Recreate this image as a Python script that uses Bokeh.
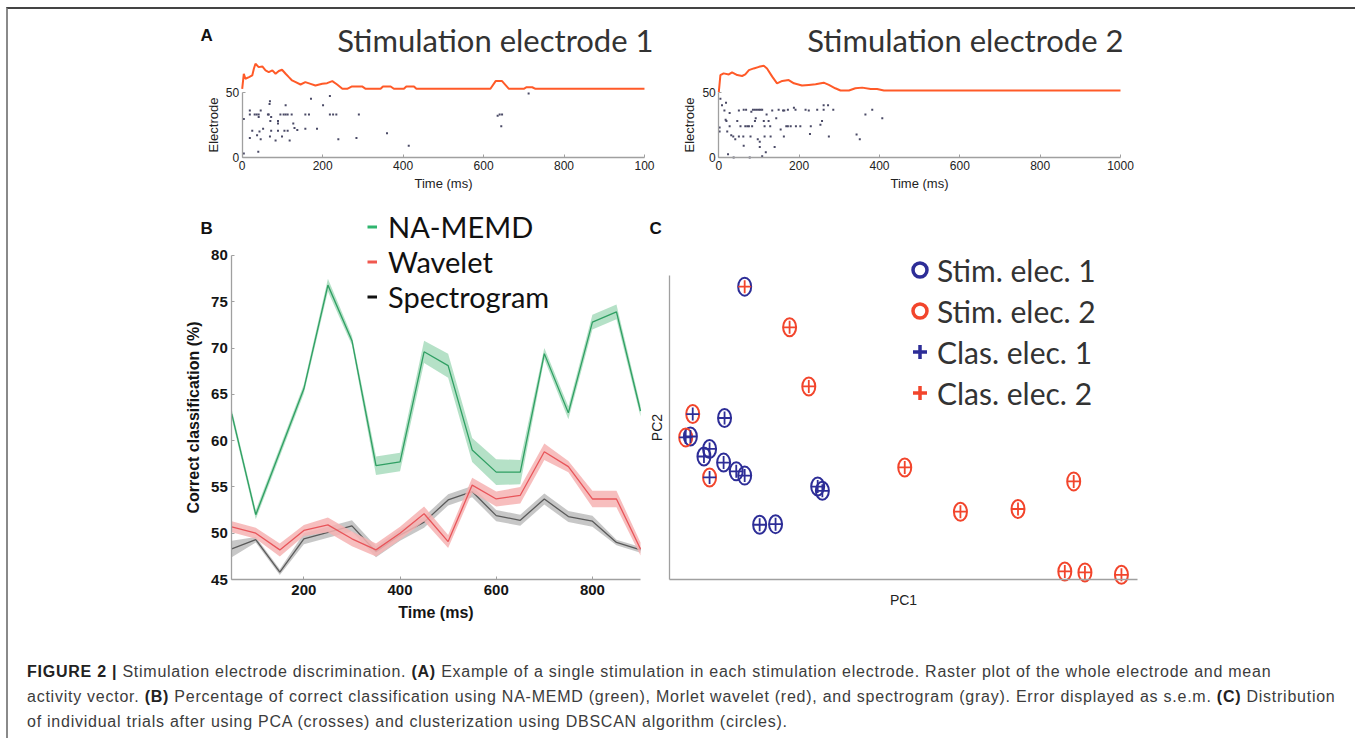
from bokeh.plotting import figure
from bokeh.models import (Range1d, Label, Legend, LegendItem, FixedTicker, Div,
                          ColumnDataSource)
from bokeh.layouts import column, row
from bokeh.embed import file_html
from bokeh.resources import INLINE

# ---------------- data ----------------
# Panel A: raster (time in ms, electrode index) and mean activity trace
a1_spike_ms = [4, 4, 19, 19, 19, 25, 31, 36, 37, 41, 41, 40, 43, 46, 46, 52, 64, 66, 68, 69,
               70, 69, 72, 72, 83, 89, 89, 89, 95, 99, 103, 105, 108, 108, 113, 113, 118, 123, 127, 130,
               137, 157, 157, 166, 171, 186, 201, 218, 218, 226, 234, 239, 284, 290, 360, 414, 635, 640, 646, 644,
               712]
a1_spike_el = [29.5, 3, 36, 33, 15, 20.5, 33, 33, 17, 33, 31, 4.4, 20, 36, 14, 22, 33, 33, 41, 16,
               28, 43, 20.5, 31, 13, 26, 20.5, 28, 33, 16, 33, 20.5, 33, 40, 33, 20.5, 13, 33, 26, 22.5,
               21, 22, 33, 33, 45, 22, 40, 47, 33, 33, 33, 14, 15, 33, 18.5, 9, 32, 33, 33, 24,
               49]
a1_trace_ms = [0, 4, 8, 17, 25, 29, 33, 41, 50, 58, 66, 75, 83, 91, 99, 108, 116, 124, 133, 145,
               157, 170, 182, 199, 211, 224, 236, 249, 261, 273, 298, 307, 344, 350, 369, 377, 402, 408,
               427, 433, 617, 630, 646, 663, 700, 707, 721, 729, 1000]
a1_trace_val = [52.6, 64.1, 60.3, 61.5, 62.8, 67.9, 71.8, 69.2, 69.7, 66.7, 65.4, 66.7, 64.1, 66.2,
                67.2, 64.1, 61.5, 59.0, 57.7, 55.9, 57.7, 56.4, 55.1, 56.4, 56.9, 58.5, 55.9, 52.6,
                52.6, 54.4, 54.4, 52.6, 52.6, 54.4, 54.4, 52.6, 52.6, 54.4, 54.4, 52.6, 52.6, 58.5,
                58.5, 52.6, 52.6, 53.8, 53.8, 52.6, 52.6]

a2_spike_ms = [4, 8, 2, 2, 18, 14, 17, 19, 21, 23, 27, 27, 31, 36, 37, 41, 46, 50, 50, 54,
               61, 62, 68, 62, 66, 71, 75, 77, 79, 81, 83, 85, 90, 95, 100, 104, 108, 90, 92, 97,
               102, 102, 108, 112, 114, 114, 117, 119, 124, 128, 129, 133, 139, 143, 149, 154, 160, 163, 162, 168,
               172, 172, 187, 191, 179, 192, 203, 216, 224, 227, 229, 245, 253, 257, 261, 261, 274, 272, 285, 343,
               351, 365, 382, 407]
a2_spike_el = [45, 40, 23, 20, 42, 36, 29, 28, 20, 2.5, 34, 24, 17, 16, 0, 14, 28, 36, 16, 24,
               16, 36.6, 36.6, 9, 24, 24, 24, 0, 16, 35, 24, 36.6, 36.6, 36.6, 36.6, 36.6, 36.6, 28, 30, 14,
               12, 8, 1, 28, 24, 16, 4, 33, 28, 24, 16, 36, 8, 30, 36.6, 21.5, 36, 36, 16, 24,
               24, 36.6, 38, 36.6, 24, 24, 24, 36.6, 36, 18, 24, 36.6, 25, 28, 40, 36.6, 16, 40, 36.6, 17.7,
               14, 33, 36.6, 30]
a2_trace_ms = [0, 4, 12, 25, 33, 46, 58, 66, 75, 87, 100, 112, 120, 133, 145, 158, 174, 187, 207,
               224, 241, 261, 274, 290, 303, 324, 340, 357, 378, 394, 411, 1000]
a2_trace_val = [50.0, 63.0, 64.4, 63.6, 65.2, 63.1, 62.4, 63.6, 66.9, 68.2, 69.4, 70.2, 68.2, 61.9,
                56.8, 58.6, 59.3, 56.8, 55.1, 55.6, 56.1, 57.3, 55.6, 53.0, 51.3, 51.3, 53.0, 53.5,
                52.5, 52.5, 51.3, 51.3]

a_xticks = [0, 200, 400, 600, 800, 1000]
a_yticks = [0, 50]

# Panel B: correct classification (%) vs time (ms), mean and s.e.m.
b_time = [50, 100, 150, 200, 250, 300, 350, 400, 450, 500, 550, 600, 650, 700, 750, 800, 850, 900]
b_memd = [62.9, 52.0, 58.8, 65.6, 76.8, 70.8, 57.3, 57.7, 69.6, 68.1, 59.0, 56.6, 56.6, 69.4, 63.0, 72.8, 73.9, 63.2]
b_memd_sem = [0.5, 0.5, 0.5, 0.5, 0.7, 0.5, 1.0, 1.0, 1.2, 1.3, 1.3, 1.4, 1.3, 0.6, 0.7, 0.8, 0.8, 0.6]
b_wavelet = [50.7, 50.0, 48.2, 50.3, 50.9, 49.4, 48.2, 50.0, 52.1, 49.1, 55.2, 53.7, 54.1, 58.8, 57.2, 53.7, 53.7, 48.3]
b_wavelet_sem = [0.6, 0.6, 0.7, 0.6, 0.8, 0.8, 0.7, 0.7, 0.8, 0.7, 0.8, 0.8, 0.9, 0.9, 0.6, 0.9, 0.9, 0.7]
b_spectro = [48.3, 49.3, 45.8, 49.4, 50.1, 50.8, 48.0, 49.8, 51.2, 53.6, 54.5, 51.9, 51.4, 53.7, 51.8, 51.3, 49.0, 48.2]
b_spectro_sem = [0.9, 0.3, 0.3, 0.6, 0.6, 0.6, 0.6, 0.6, 0.6, 0.6, 0.6, 0.6, 0.6, 0.6, 0.6, 0.6, 0.3, 0.3]
b_xticks = [200, 400, 600, 800]
b_yticks = [45, 50, 55, 60, 65, 70, 75, 80]
b_labels = ["NA-MEMD", "Wavelet", "Spectrogram"]

# Panel C: PCA scores of individual trials
c_pc1 = [16.0, 25.6, 29.7, 4.9, 11.7, 4.4, 3.4, 8.5, 7.3, 11.5, 14.2, 16.0, 8.5, 31.6, 32.6, 19.2,
         22.6, 50.2, 62.1, 74.4, 86.3, 84.4, 88.7, 96.5]
c_pc2 = [96.4, 83.0, 63.5, 54.4, 53.1, 47.0, 46.7, 42.9, 40.4, 38.4, 35.5, 34.1, 33.5, 30.5, 29.1,
         17.9, 18.1, 36.8, 22.2, 23.1, 32.2, 2.5, 2.2, 1.4]
c_stim = [1, 2, 2, 2, 1, 1, 2, 1, 1, 1, 1, 1, 2, 1, 1, 1, 1, 2, 2, 2, 2, 2, 2, 2]
c_clas = [2, 2, 2, 1, 1, 1, 1, 1, 1, 1, 1, 1, 1, 1, 1, 1, 1, 2, 2, 2, 2, 2, 2, 2]
c_labels = ["Stim. elec. 1", "Stim. elec. 2", "Clas. elec. 1", "Clas. elec. 2"]

# ---------------- styling ----------------
AX_FONT = "Liberation Sans"
TITLE_FONT = "Lato"
BLUE = "#2d2d97"
RED = "#f2452c"
TRACE = "#ff5a28"


def base_fig(width, height, xr, yr):
    p = figure(width=width, height=height, x_range=Range1d(*xr), y_range=Range1d(*yr),
               min_border=0, min_border_left=0, min_border_right=0, min_border_top=0,
               min_border_bottom=0, output_backend="svg", toolbar_location=None)
    p.outline_line_color = None
    p.grid.visible = False
    return p


def style_axes(p, tick_size, label_size, bold, color):
    for ax in p.axis:
        ax.axis_line_color = "#a0a0a0"
        ax.axis_line_width = 1.3
        ax.major_tick_line_color = "#a0a0a0"
        ax.minor_tick_line_color = None
        ax.major_tick_in = 3
        ax.major_tick_out = 0
        ax.major_label_text_font = AX_FONT
        ax.major_label_text_font_size = tick_size
        ax.major_label_text_font_style = "bold" if bold else "normal"
        ax.major_label_text_color = color
        ax.axis_label_text_font = AX_FONT
        ax.axis_label_text_font_size = label_size
        ax.axis_label_text_font_style = "bold" if bold else "normal"
        ax.axis_label_text_color = color


def panel_label(p, txt, x, y):
    p.add_layout(Label(x=x, y=y, x_units="screen", y_units="screen", text=txt,
                       text_font=AX_FONT, text_font_size="17px", text_font_style="bold",
                       text_color="#111111", text_align="left", text_baseline="middle"))


def make_a(width, xr, t, el, lt, lv, title, title_x, last_label):
    p = base_fig(width, 191, xr, (-32.9, 113.3))
    p.line(lt, lv, line_color=TRACE, line_width=2)
    p.scatter(t, el, marker="square", size=2.0, fill_color="#4a4a66", line_color=None)
    style_axes(p, "12px", "13px", False, "#222222")
    p.xaxis.ticker = FixedTicker(ticks=a_xticks)
    p.xaxis.major_label_overrides = {1000: last_label}
    p.xaxis.bounds = (0, 1000)
    p.xaxis.fixed_location = 0
    p.yaxis.ticker = FixedTicker(ticks=a_yticks)
    p.yaxis.bounds = (0, 50)
    p.yaxis.fixed_location = 0
    p.xaxis.axis_label = "Time (ms)"
    p.yaxis.axis_label = "Electrode"
    p.xaxis.major_label_standoff = 3
    p.xaxis.axis_label_standoff = 3
    p.yaxis.major_label_standoff = 3
    p.yaxis.axis_label_standoff = 2
    p.add_layout(Label(x=title_x, y=161, x_units="screen", y_units="screen", text=title,
                       text_font=TITLE_FONT, text_font_size="31px", text_color="#333333",
                       text_align="right", text_baseline="middle"))
    return p


pa1 = make_a(660, (-580.9, 1059.7), a1_spike_ms, a1_spike_el, a1_trace_ms, a1_trace_val,
             "Stimulation electrode 1", 645, "100")
panel_label(pa1, "A", 192, 165)
pa2 = make_a(679, (-125.2, 1565.1), a2_spike_ms, a2_spike_el, a2_trace_ms, a2_trace_val,
             "Stimulation electrode 2", 455, "1000")

# ---------------- panel B ----------------
pb = base_fig(637, 428, (-414.2, 910.4), (39.71, 85.94))

series = [
    (b_spectro, b_spectro_sem, "#bdbdbd", "#5a5a5a", "#111111"),
    (b_wavelet, b_wavelet_sem, "#f6b3b3", "#e8555a", "#f0584f"),
    (b_memd, b_memd_sem, "#a8dcbd", "#2f9f63", "#2fb56e"),
]
# hidden renderers that only supply the legend dashes
dash_renderers = []
for vals, sem, band, line, dash in series:
    dash_renderers.append(pb.line(b_time, vals, line_color=dash, line_width=3, visible=False))
for vals, sem, band, line, dash in series:
    lo = [v - s for v, s in zip(vals, sem)]
    hi = [v + s for v, s in zip(vals, sem)]
    pb.varea(x=b_time, y1=lo, y2=hi, fill_color=band, fill_alpha=0.85)
    pb.line(b_time, vals, line_color=line, line_width=1.3)

style_axes(pb, "15px", "16px", True, "#151515")
pb.xaxis.ticker = FixedTicker(ticks=b_xticks)
pb.yaxis.ticker = FixedTicker(ticks=b_yticks)
pb.xaxis.bounds = (50, 900)
pb.yaxis.bounds = (45, 80)
pb.xaxis.fixed_location = 45
pb.yaxis.fixed_location = 50
pb.xaxis.axis_label = "Time (ms)"
pb.yaxis.axis_label = "Correct classification (%)"
pb.xaxis.major_label_standoff = 5
pb.xaxis.axis_label_standoff = 6
pb.yaxis.major_label_standoff = 4
pb.yaxis.axis_label_standoff = 6

leg_b = Legend(items=[LegendItem(label=b_labels[2 - i], renderers=[dash_renderers[i]])
                      for i in (2, 1, 0)],
               location=(359, 314), glyph_width=10, glyph_height=35, label_height=35,
               label_standoff=11, spacing=0, padding=0, margin=0,
               background_fill_alpha=0, border_line_color=None, inactive_fill_alpha=0,
               label_text_font=TITLE_FONT, label_text_font_size="29px",
               label_text_color="#111111")
pb.add_layout(leg_b, "center")
panel_label(pb, "B", 192, 400)

# ---------------- panel C ----------------
pc = base_fig(702, 428, (-5.19, 144.8), (-16.3, 124.8))
src = ColumnDataSource(dict(
    pc1=c_pc1, pc2=c_pc2,
    stim_color=[BLUE if s == 1 else RED for s in c_stim],
    clas_color=[BLUE if c == 1 else RED for c in c_clas],
))
pc.ellipse(x="pc1", y="pc2", width=13, height=18, width_units="screen", height_units="screen",
           fill_color=None, line_color="stim_color", line_width=2, source=src)
pc.scatter(x="pc1", y="pc2", marker="cross", size=13, line_color="clas_color",
           line_width=1.8, source=src)

# hidden renderers that only supply the legend glyphs
proxies = [
    pc.scatter(c_pc1, c_pc2, marker="circle", size=10, fill_color=None, line_color=BLUE,
               line_width=3.5, visible=False),
    pc.scatter(c_pc1, c_pc2, marker="circle", size=10, fill_color=None, line_color=RED,
               line_width=3.5, visible=False),
    pc.scatter(c_pc1, c_pc2, marker="cross", size=10, line_color=BLUE, line_width=3.5, visible=False),
    pc.scatter(c_pc1, c_pc2, marker="cross", size=10, line_color=RED, line_width=3.5, visible=False),
]
style_axes(pc, "14px", "14px", False, "#222222")
for ax in pc.axis:
    ax.ticker = FixedTicker(ticks=[])
pc.xaxis.bounds = (0, 100)
pc.yaxis.bounds = (0, 100)
pc.xaxis.fixed_location = 0
pc.yaxis.fixed_location = 0
pc.xaxis.axis_label = "PC1"
pc.yaxis.axis_label = "PC2"
pc.xaxis.axis_label_standoff = 12
pc.yaxis.axis_label_standoff = 5
leg_c = Legend(items=[LegendItem(label=lab, renderers=[r]) for lab, r in zip(c_labels, proxies)],
               location=(257, 215), glyph_width=35, glyph_height=41, label_height=41,
               label_standoff=0, spacing=0, padding=0, margin=0,
               background_fill_alpha=0, border_line_color=None, inactive_fill_alpha=0,
               label_text_font=TITLE_FONT, label_text_font_size="30px",
               label_text_color="#333333")
pc.add_layout(leg_c, "center")
panel_label(pc, "C", 4, 400)

# ---------------- caption ----------------
caption_html = (
    "<div style=\"font-family:'Liberation Sans',Arial,sans-serif;font-size:16px;"
    "line-height:25px;color:#3c3c3c;letter-spacing:0.75px;padding-left:14px;padding-top:26px;"
    "white-space:nowrap;\">"
    "<b style='color:#222'>FIGURE 2 |</b> Stimulation electrode discrimination. "
    "<b style='color:#222'>(A)</b> Example of a single stimulation in each stimulation electrode. "
    "Raster plot of the whole electrode and mean<br>"
    "activity vector. <b style='color:#222'>(B)</b> Percentage of correct classification using "
    "NA-MEMD (green), Morlet wavelet (red), and spectrogram (gray). Error displayed as s.e.m. "
    "<b style='color:#222'>(C)</b> Distribution<br>"
    "of individual trials after using PCA (crosses) and clusterization using DBSCAN algorithm (circles)."
    "</div>"
)
cap = Div(text=caption_html, width=1339, height=100)

layout = column(row(pa1, pa2), row(pb, pc), cap,
                styles={"margin-left": "6px", "margin-top": "7px",
                        "border-top": "2px solid #444444", "border-left": "2px solid #8a8a8a"})

open("out.html", "w").write(file_html(layout, INLINE))
